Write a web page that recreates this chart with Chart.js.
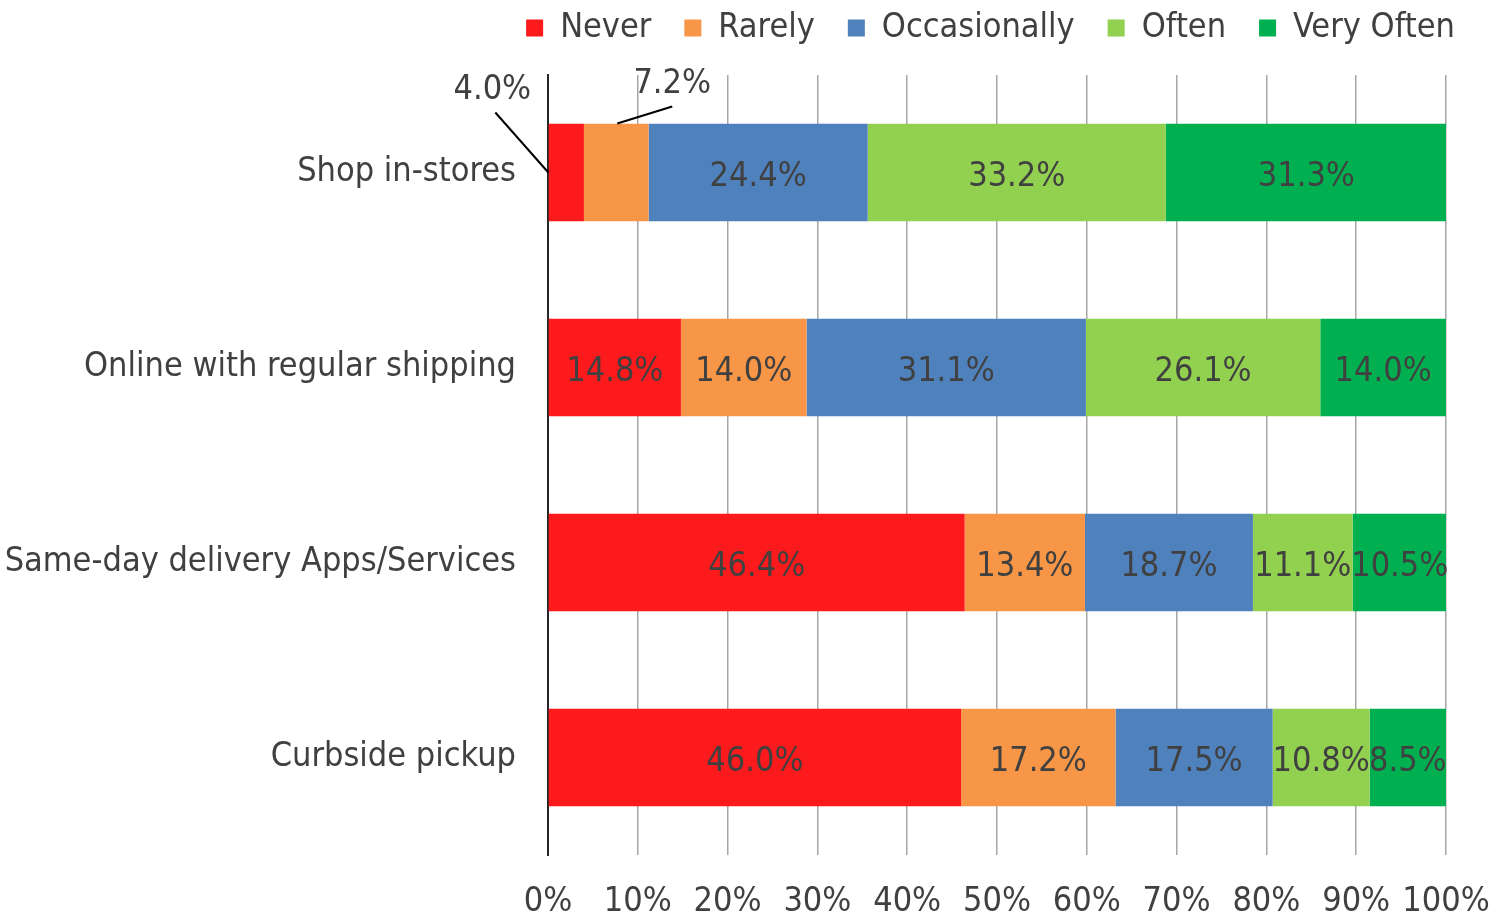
<!DOCTYPE html>
<html>
<head>
<meta charset="utf-8">
<script src="https://cdn.jsdelivr.net/npm/chart.js"></script>
<style>
  html, body { margin: 0; padding: 0; background: #fff; }
  #wrap { width: 1507px; height: 917px; }
</style>
</head>
<body>
<div id="wrap"><canvas id="chart"></canvas></div>
<script>
const categories = ["Shop in-stores", "Online with regular shipping", "Same-day delivery Apps/Services", "Curbside pickup"];
const seriesNames = ["Never", "Rarely", "Occasionally", "Often", "Very Often"];
const never = [4.0, 14.8, 46.4, 46.0];
const rarely = [7.2, 14.0, 13.4, 17.2];
const occasionally = [24.4, 31.1, 18.7, 17.5];
const often = [33.2, 26.1, 11.1, 10.8];
const veryOften = [31.3, 14.0, 10.5, 8.5];
const xTicks = [0, 10, 20, 30, 40, 50, 60, 70, 80, 90, 100];

const colors = ["#FC1A1C", "#F79646", "#4F81BD", "#92D050", "#00B050"];
const FONT = "'DejaVu Sans Condensed', 'DejaVu Sans', sans-serif";
const FSIZE = 34;
const TEXT = "#404040";

// labels that sit outside their bar with a leader line (offsets from bar centre)
const callouts = [
  { ds: 0, row: 0, tx: -74, ty: -82, x1: -71, y1: -60, x2: -18, y2: 0 },
  { ds: 1, row: 0, tx: 56, ty: -88, x1: 56, y1: -66, x2: 1, y2: -49 }
];

const valueLabels = {
  id: "valueLabels",
  afterDatasetsDraw(chart) {
    const ctx = chart.ctx;
    ctx.save();
    ctx.font = FSIZE + "px " + FONT;
    ctx.fillStyle = TEXT;
    ctx.textAlign = "center";
    ctx.textBaseline = "middle";
    chart.data.datasets.forEach((ds, di) => {
      chart.getDatasetMeta(di).data.forEach((bar, i) => {
        const text = ds.data[i].toFixed(1) + "%";
        const cx = (bar.x + bar.base) / 2;
        const c = callouts.find((o) => o.ds === di && o.row === i);
        if (c) {
          ctx.strokeStyle = "#000";
          ctx.lineWidth = 2;
          ctx.beginPath();
          ctx.moveTo(cx + c.x1, bar.y + c.y1);
          ctx.lineTo(cx + c.x2, bar.y + c.y2);
          ctx.stroke();
          ctx.fillText(text, cx + c.tx, bar.y + c.ty);
        } else {
          ctx.fillText(text, cx, bar.y + 5);
        }
      });
    });
    ctx.restore();
  }
};

// push the legend row up and to the right like the original
const legendPlace = {
  id: "legendPlace",
  afterLayout(chart) {
    const lg = chart.legend;
    lg.top = -22;
    lg.right = chart.width - 19;
  }
};

const seriesData = [never, rarely, occasionally, often, veryOften];

new Chart(document.getElementById("chart"), {
  type: "bar",
  data: {
    labels: categories,
    datasets: seriesNames.map((name, i) => ({
      label: name,
      data: seriesData[i],
      backgroundColor: colors[i],
      borderWidth: 0,
      barPercentage: 0.5,
      categoryPercentage: 1
    }))
  },
  options: {
    indexAxis: "y",
    responsive: true,
    maintainAspectRatio: false,
    animation: false,
    layout: { padding: { left: 0, right: 61, top: 0, bottom: 0 } },
    plugins: {
      tooltip: { enabled: false },
      legend: {
        position: "top",
        align: "end",
        maxHeight: 75,
        labels: {
          boxWidth: 17,
          boxHeight: 17,
          padding: 33,
          color: TEXT,
          font: { family: FONT, size: FSIZE }
        }
      }
    },
    scales: {
      x: {
        stacked: true,
        min: 0,
        max: 100,
        afterBuildTicks: (s) => { s.ticks = xTicks.map((v) => ({ value: v })); },
        afterFit: (s) => {
          s.height = 62;
          s.paddingRight = 0;
          s.paddingLeft = 0;
        },
        ticks: {
          callback: (v) => v + "%",
          color: TEXT,
          font: { family: FONT, size: FSIZE },
          padding: 27,
          maxRotation: 0,
          autoSkip: false
        },
        grid: { color: "#A6A6A6", lineWidth: 1.5, drawTicks: false },
        border: { display: false }
      },
      y: {
        stacked: true,
        afterFit: (s) => { s.width = 548; },
        ticks: {
          color: TEXT,
          font: { family: FONT, size: FSIZE },
          padding: 32
        },
        grid: { display: false, drawTicks: false },
        border: { display: true, color: "#262626", width: 2 }
      }
    }
  },
  plugins: [valueLabels, legendPlace]
});
</script>
</body>
</html>
